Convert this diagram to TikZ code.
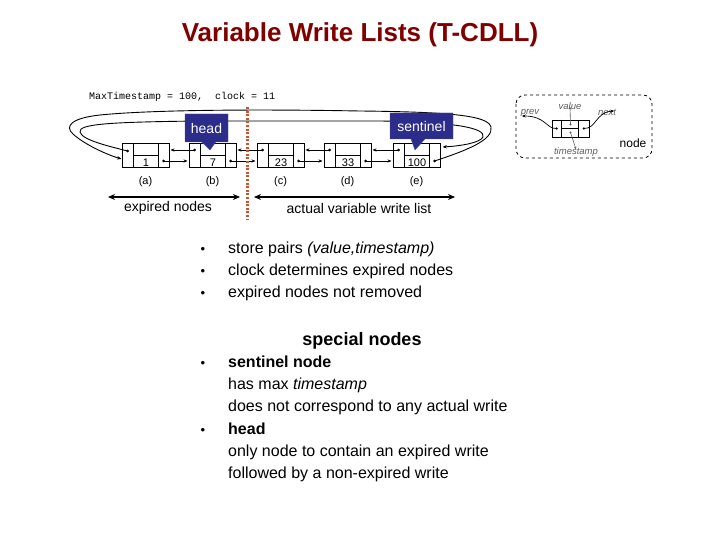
\documentclass[tikz,border=0pt]{standalone}
\usepackage{fontspec}
\setmainfont{Liberation Sans}
\setmonofont{Liberation Mono}
\usetikzlibrary{shapes.callouts,arrows.meta,calc}
\definecolor{titlered}{RGB}{128,0,0}
\definecolor{calloutblue}{RGB}{44,44,138}
\definecolor{dotred}{RGB}{200,85,50}
\definecolor{legendgray}{RGB}{95,95,95}
\tikzset{
  lnode/.style={draw, minimum width=47pt, minimum height=24pt, inner sep=0pt, line width=1pt},
  cellline/.style={line width=1pt},
  valtxt/.style={font=\fontsize{11}{12}\selectfont, inner sep=0pt},
  lbltxt/.style={font=\fontsize{11}{12}\selectfont, inner sep=0pt},
  ptr/.style={line width=0.8pt, -{Stealth[length=4pt,width=3.2pt]}},
  loopline/.style={line width=0.9pt, -{Stealth[length=4.5pt,width=3.5pt]}},
  pdot/.style={fill=black},
  callbox/.style={rectangle callout, fill=calloutblue, draw=calloutblue!80!white, text=white,
     font=\fontsize{14}{16}\selectfont, inner sep=0pt, callout pointer width=14pt},
  span/.style={line width=1.6pt, {Stealth[length=7pt,width=6pt]}-{Stealth[length=7pt,width=6pt]}},
  smalltxt/.style={font=\fontsize{14}{16}\selectfont, inner sep=0pt},
  bodytxt/.style={font=\fontsize{16}{18}\selectfont, anchor=mid west, inner sep=0pt},
  boldtxt/.style={font=\bfseries\fontsize{16}{18}\selectfont, anchor=mid west, inner sep=0pt},
  bul/.style={font=\fontsize{13}{14}\selectfont, inner sep=0pt},
  legtxt/.style={font=\itshape\fontsize{9.5}{11}\selectfont, text=legendgray, inner sep=0pt}
}
\begin{document}
\begin{tikzpicture}[x=1pt,y=-1pt]
\path[use as bounding box, fill=white] (0,0) rectangle (720,540);

% title
\node[font=\bfseries\fontsize{26}{30}\selectfont, text=titlered] (title) at (360,35) {Variable Write Lists (T-CDLL)};

% header text
\node[font=\ttfamily\fontsize{10}{12}\selectfont, anchor=mid west, inner sep=0pt] (hdr) at (89,97) {MaxTimestamp = 100,~~clock = 11};

% list nodes
\foreach \n/\x/\v in {a/145.5/1, b/212.5/7, c/280.5/23, d/347.5/33, e/416.5/100} {
  \node[lnode] (\n) at (\x,156) {};
  \draw[cellline] ([xshift=12pt]\n.north west) -- ([xshift=12pt]\n.south west);
  \draw[cellline] ([xshift=-11pt]\n.north east) -- ([xshift=-11pt]\n.south east);
  \draw[cellline] ([xshift=12pt]\n.west) -- ([xshift=-11pt]\n.east);
  \node[valtxt] (\n v) at ([xshift=0.5pt,yshift=-6.5pt]\n.center) {\v};
  \node[lbltxt] (\n l) at (\x,182) {(\n)};
}

% pointers between neighbours
\foreach \i/\j in {a/b, b/c, c/d, d/e} {
  \fill[pdot] ([xshift=6pt,yshift=6pt]\j.west) circle (1.5pt);
  \draw[ptr] ([xshift=6pt,yshift=6pt]\j.west) -- ([xshift=1pt,yshift=6pt]\i.east);
  \fill[pdot] ([xshift=-6pt,yshift=-5pt]\i.east) circle (1.5pt);
  \draw[ptr] ([xshift=-6pt,yshift=-5pt]\i.east) -- ([xshift=-1pt,yshift=-5pt]\j.west);
}

% wrap-around pointers
\fill[pdot] ([xshift=6pt,yshift=5pt]a.west) circle (1.5pt);
\draw[loopline] ([xshift=6pt,yshift=5pt]a.west)
   .. controls (108,146) and (82,140) .. (80,132)
   .. controls (78,124) and (110,122) .. (200,121)
   -- (380,121)
   .. controls (455,122) and (486,128) .. (483,137)
   .. controls (480,143) and (460,146) .. ([xshift=2pt,yshift=9pt]e.east);
\fill[pdot] ([xshift=-6pt,yshift=-5pt]e.east) circle (1.5pt);
\draw[loopline] ([xshift=-6pt,yshift=-5pt]e.east)
   .. controls (465,151) and (494,140) .. (491,127)
   .. controls (488,116) and (455,112) .. (360,111)
   .. controls (250,109) and (150,110) .. (100,115)
   .. controls (72,118) and (64,126) .. (73,134)
   .. controls (85,145) and (108,155) .. ([yshift=-3pt]a.west);

% callouts
\node[callbox, minimum width=43pt, minimum height=28pt, callout absolute pointer={(210,150)}] (head) at (206.5,128) {head};
\node[callbox, minimum width=63pt, minimum height=26pt, callout absolute pointer={(415,150)}] (sentinel) at (421.5,126) {sentinel};

% divider
\coordinate (divtop) at (247,107);
\coordinate (divbot) at (247,220);
\draw[dotred, line width=3pt, dash pattern=on 2pt off 1.6pt] (divtop) -- (divbot);

% spans
\coordinate (l1) at (108,197);
\coordinate (l2) at (240,197);
\coordinate (r1) at (254,197);
\coordinate (r2) at (455,197);
\draw[span] (l1) -- (l2);
\draw[span] (r1) -- (r2);
\node[smalltxt] (expl) at (168,208) {expired nodes};
\node[smalltxt] (actl) at (359,208) {actual variable write list};

% legend
\draw[dashed, line width=0.8pt, rounded corners=9pt] (516,95) rectangle (652,158);
\node[draw, line width=0.8pt, minimum width=37pt, minimum height=17pt, inner sep=0pt] (ln) at (570.5,128.5) {};
\draw[line width=0.8pt] ([xshift=10pt]ln.north west) -- ([xshift=10pt]ln.south west);
\draw[line width=0.8pt] ([xshift=-11pt]ln.north east) -- ([xshift=-11pt]ln.south east);
\draw[line width=1.8pt] ([xshift=10pt]ln.west) -- ([xshift=-11pt]ln.east);
\node[legtxt] (lval) at (570,106) {value};
\node[legtxt] (lts) at (576,152) {timestamp};
\node[legtxt] (lprev) at (530,113) {prev};
\node[legtxt] (lnext) at (607,112) {next};
\node[font=\fontsize{12}{14}\selectfont, inner sep=0pt] (lnode) at (633,143) {node};
\fill[pdot] ([xshift=5pt]ln.west) circle (1.3pt);
\fill[pdot] ([xshift=-5.5pt]ln.east) circle (1.3pt);
\fill[legendgray] ([yshift=4pt]ln.center) circle (1.2pt);
\fill[legendgray] ([yshift=-4pt]ln.center) circle (1.2pt);
\draw[legendgray, line width=0.6pt, -{Stealth[length=3pt,width=2.5pt]}] ([yshift=4pt]ln.center) -- ([yshift=3pt]lval.south);
\draw[legendgray, line width=0.6pt, -{Stealth[length=3pt,width=2.5pt]}] ([yshift=-4pt]ln.center) -- ([yshift=-2pt]lts.north);
\draw[line width=0.7pt, -{Stealth[length=3.5pt,width=3pt]}] ([xshift=5pt]ln.west) .. controls (546,129) and (546,116) .. (522,116);
\draw[line width=0.7pt, -{Stealth[length=3.5pt,width=3pt]}] ([xshift=-5.5pt]ln.east) .. controls (596,129) and (596,112) .. (614,111);

% bullets
\foreach \y/\t in {250/1, 272/2, 294/3, 364/4, 431/5} {
  \node[bul] (bu\t) at (203,\y) {\textbullet};
}
\node[bodytxt] (t1) at (228,251) {store pairs \textit{(value,timestamp)}};
\node[bodytxt] (t2) at (228,273) {clock determines expired nodes};
\node[bodytxt] (t3) at (228,295) {expired nodes not removed};
\node[font=\bfseries\fontsize{18}{20}\selectfont, inner sep=0pt] (sp) at (362,341) {special nodes};
\node[boldtxt] (t4) at (228,365) {sentinel node};
\node[bodytxt] (t5) at (228,387) {has max \textit{timestamp}};
\node[bodytxt] (t6) at (228,409) {does not correspond to any actual write};
\node[boldtxt] (t7) at (228,432) {head};
\node[bodytxt] (t8) at (228,454) {only node to contain an expired write};
\node[bodytxt] (t9) at (228,476) {followed by a non-expired write};
\end{tikzpicture}
\end{document}
